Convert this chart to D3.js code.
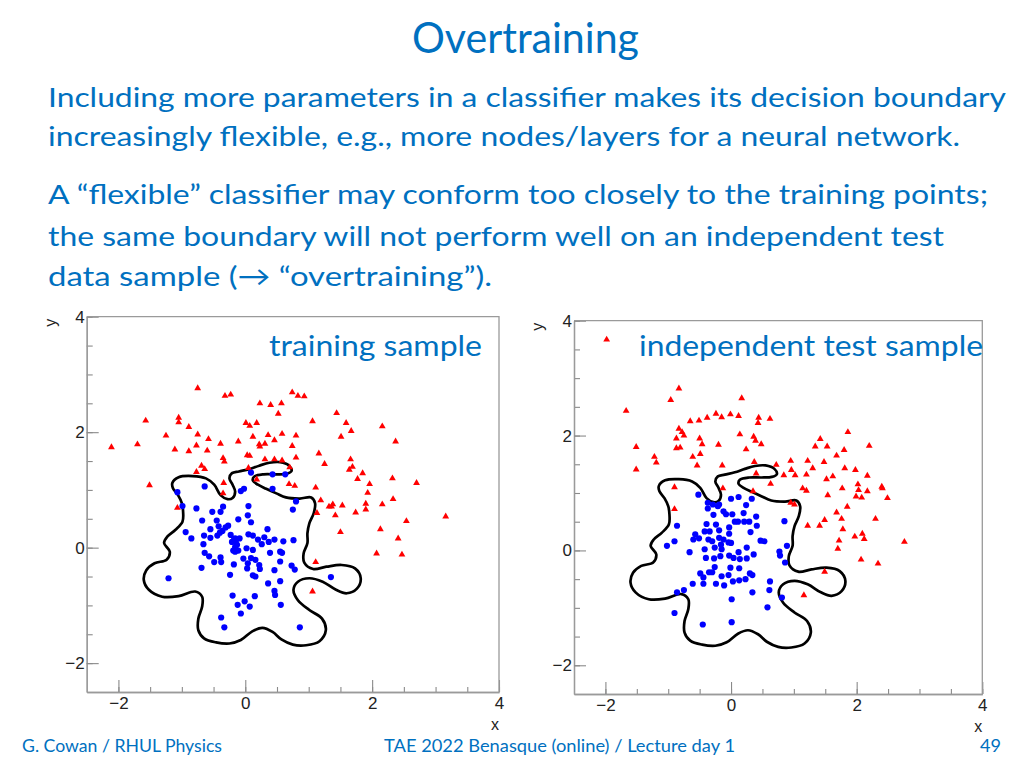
<!DOCTYPE html>
<html><head><meta charset="utf-8">
<script src="https://cdn.jsdelivr.net/npm/d3@7"></script>
<style>body{margin:0;background:#fff;}svg{display:block;}</style>
</head><body>
<svg id="c" width="1024" height="768"></svg>
<script>
// ---------------- data ----------------
const titleText = "Overtraining";
const bodyLines = [
  "Including more parameters in a classifier makes its decision boundary",
  "increasingly flexible, e.g., more nodes/layers for a neural network.",
  "A \u201cflexible\u201d classifier may conform too closely to the training points;",
  "the same boundary will not perform well on an independent test",
  "data sample (\u2192 \u201covertraining\u201d)."
];
const panelTitles = ["training sample", "independent test sample"];
const footerTexts = ["G. Cowan / RHUL Physics", "TAE 2022 Benasque (online) / Lecture day 1", "49"];

const xDomain = [-2.5, 4];
const yDomain = [-2.5, 4];
const majorTicks = [-2, 0, 2, 4];
const minorTicks = [-2, -1.5, -1, -0.5, 0, 0.5, 1, 1.5, 2, 2.5, 3, 3.5, 4];

// training sample: red triangles (class 1), blue dots (class 2)
const trainRed = [
[-2.11,1.74],[-1.70,1.79],[-1.57,2.20],[-1.51,1.08],[-1.25,1.94],[-1.11,1.70],[-1.05,2.25],[-1.05,2.17],[-0.89,2.09],[-0.89,1.67],
[-0.75,2.76],[-0.75,1.96],[-0.77,1.77],[-0.77,1.31],[-0.69,1.42],[-0.64,1.36],[-0.58,1.88],[-0.60,1.68],[-0.39,1.80],[-0.35,1.55],
[-0.33,1.49],[-0.34,1.12],[-0.35,0.94],[-0.32,2.63],[-0.23,2.65],[-0.11,1.84],[0.01,2.16],[0.07,2.11],[0.03,1.60],[0.07,1.59],
[0.05,1.38],[0.12,1.92],[0.18,2.16],[0.22,1.79],[0.23,1.75],[0.23,2.50],[0.31,1.80],[0.31,1.53],[0.36,1.95],[0.40,2.47],
[0.46,1.86],[0.46,1.53],[0.52,2.32],[0.57,2.50],[0.58,1.97],[0.58,1.51],[0.74,2.69],[0.83,2.63],[0.93,2.62],[0.80,1.94],
[0.74,1.76],[0.80,1.56],[0.70,1.39],[0.69,1.10],[0.78,1.07],[0.18,1.18],[1.06,2.19],[1.16,1.63],[1.25,1.45],[1.11,1.04],
[1.19,0.82],[1.13,0.60],[1.32,0.71],[1.36,0.71],[1.38,0.75],[1.44,2.33],[1.51,1.92],[1.59,2.16],[1.67,2.02],[1.66,1.53],
[1.69,1.40],[1.64,1.35],[1.77,1.19],[1.85,1.29],[1.96,1.10],[1.93,0.95],[1.90,0.76],[1.90,0.66],[1.74,0.61],[1.53,0.73],
[1.42,0.56],[1.50,0.27],[1.11,-0.25],[1.06,-0.76],[2.16,2.10],[2.37,1.84],[2.32,1.20],[2.33,0.84],[2.16,0.75],[2.70,1.12],
[2.54,0.46],[2.13,0.32],[2.41,0.16],[2.07,-0.10],[2.47,-0.12],[3.16,0.54],[-1.07,0.69]
];
const trainBlue = [
[-1.07,0.96],[-0.99,0.72],[-0.64,1.06],[-0.77,0.68],[-0.68,0.47],[-0.52,0.62],[-0.39,0.62],[-0.35,0.71],[-0.94,0.27],[-0.85,0.16],
[-0.65,0.21],[-0.55,0.32],[-0.55,0.17],[-0.45,0.47],[-0.42,0.37],[-0.40,0.26],[-0.44,0.21],[-0.36,0.29],[-0.31,0.35],[-0.27,0.38],
[-0.66,0.06],[-0.64,-0.09],[-0.57,-0.15],[-0.49,-0.25],[-0.39,-0.17],[-0.38,-0.25],[-0.69,-0.35],[-1.21,-0.53],[-0.11,0.49],[0.04,0.56],
[0.05,0.72],[0.09,0.44],[-0.07,0.98],[-0.02,1.02],[0.09,1.30],[0.43,1.27],[0.63,1.27],[0.43,1.02],[0.80,0.80],[0.75,0.66],
[-0.18,0.13],[-0.15,0.10],[-0.21,0.10],[-0.09,0.16],[-0.13,0.05],[-0.16,0.01],[-0.19,-0.05],[-0.11,-0.05],[0.02,-0.01],[0.05,0.23],
[0.12,0.21],[0.20,0.14],[0.26,0.06],[0.30,0.18],[0.35,0.32],[0.37,0.10],[0.46,0.14],[0.60,0.11],[0.76,0.13],[-0.03,-0.19],
[0.04,-0.27],[0.03,-0.36],[0.09,-0.18],[0.12,-0.04],[0.22,-0.30],[0.23,-0.37],[0.39,-0.09],[0.46,-0.39],[0.58,-0.09],[0.55,-0.24],
[0.73,-0.31],[0.78,-0.38],[-0.18,-0.29],[-0.24,-0.47],[0.12,-0.48],[0.16,-0.50],[0.36,-0.62],[0.46,-0.75],[0.47,-0.82],[0.55,-0.58],
[-0.20,-0.83],[-0.01,-0.93],[-0.12,-0.99],[-0.07,-1.14],[0.07,-1.02],[0.15,-0.84],[0.56,-0.99],[-0.38,-1.21],[-0.33,-1.38],[0.86,-1.38],
[1.35,-0.51],[-0.23,0.22],[-0.16,0.16],[-0.16,-0.07],[0.55,-0.07],[0.16,-0.21]
];

// independent test sample
const testRed = [
[-1.98,3.67],[-1.67,2.43],[-1.51,1.80],[-1.51,1.41],[-1.22,1.63],[-1.19,1.53],[-0.96,2.62],[-0.83,2.82],[-0.87,1.95],[-0.87,1.78],
[-0.81,1.79],[-0.83,2.12],[-0.78,2.06],[-0.75,2.00],[-0.90,1.10],[-0.90,0.72],[-0.65,2.25],[-0.51,2.26],[-0.61,1.63],[-0.54,1.48],
[-0.49,1.68],[-0.50,1.95],[-0.46,1.85],[-0.38,2.31],[-0.24,2.38],[-0.15,2.32],[-0.20,1.84],[-0.14,1.48],[-0.13,1.08],[-0.01,2.37],
[0.12,2.34],[0.14,2.02],[0.17,2.65],[0.24,1.76],[0.36,1.98],[0.39,1.91],[0.44,2.31],[0.43,2.22],[0.48,1.85],[0.62,2.29],
[0.37,1.54],[0.40,1.34],[0.35,1.03],[0.63,1.16],[0.72,1.49],[0.84,1.31],[0.95,1.56],[0.96,1.40],[1.02,1.31],[0.95,0.83],
[1.01,0.80],[1.14,1.08],[1.20,1.04],[1.22,1.56],[1.30,1.43],[1.20,1.32],[1.34,1.81],[1.42,1.94],[1.53,1.81],[1.48,1.54],
[1.52,1.24],[1.62,1.29],[1.68,1.65],[1.80,1.75],[1.81,1.43],[1.77,1.08],[1.54,0.96],[1.85,0.76],[1.68,0.66],[1.76,0.55],
[1.78,0.37],[1.49,0.53],[1.41,0.43],[1.22,0.43],[1.86,2.06],[1.98,1.40],[2.02,1.15],[2.03,1.05],[1.99,0.94],[2.08,0.92],
[2.17,1.30],[2.20,1.82],[2.17,1.03],[2.40,1.11],[2.41,1.08],[2.49,0.91],[2.30,0.55],[2.09,0.29],[2.12,0.20],[1.97,0.24],
[1.72,0.17],[1.70,0.03],[2.07,-0.16],[2.34,-0.23],[2.76,0.15],[1.49,-0.37],[1.16,-0.78]
];
const testBlue = [
[-0.52,0.97],[-0.37,0.83],[-0.37,0.73],[-0.29,0.80],[-0.19,0.80],[-0.21,0.77],[0.00,0.90],[0.12,0.93],[0.33,0.90],[0.24,0.79],
[-0.86,0.43],[-0.90,0.16],[-1.02,0.08],[-0.28,0.62],[-0.12,0.68],[-0.08,0.63],[0.02,0.63],[0.20,0.65],[0.40,0.59],[-0.39,0.46],
[-0.24,0.45],[-0.19,0.35],[-0.03,0.40],[0.06,0.50],[0.11,0.50],[0.21,0.50],[0.29,0.50],[0.41,0.43],[-0.60,0.19],[-0.57,0.28],
[-0.51,0.21],[-0.42,0.33],[-0.36,0.19],[-0.34,0.33],[-0.30,0.16],[-0.26,0.05],[-0.19,0.22],[-0.16,0.10],[-0.15,0.02],[-0.12,0.19],
[-0.66,-0.03],[-0.42,0.02],[-0.04,0.14],[0.00,0.13],[-0.03,0.29],[-0.40,-0.13],[-0.27,-0.14],[-0.17,-0.10],[-0.03,-0.09],[0.04,-0.13],
[0.12,-0.03],[0.14,-0.15],[0.25,-0.14],[0.25,0.05],[0.36,-0.07],[0.31,0.32],[0.47,0.17],[0.53,0.16],[-0.49,-0.40],[-0.44,-0.47],
[-0.35,-0.38],[-0.30,-0.38],[-0.26,-0.29],[-0.15,-0.45],[-0.04,-0.43],[-0.01,-0.30],[0.13,-0.31],[0.23,-0.50],[0.30,-0.40],[0.34,-0.43],
[-0.86,-0.73],[-0.75,-0.69],[-0.61,-0.58],[-0.44,-0.58],[-0.24,-0.58],[-0.11,-0.61],[0.03,-0.54],[0.13,-0.52],[0.34,-0.73],[0.62,-0.54],
[0.61,-0.69],[0.01,-0.85],[0.58,-0.99],[0.81,-0.82],[-0.90,-1.09],[-0.45,-1.29],[0.01,-1.25],[0.85,0.51],[0.89,0.08],[0.77,-0.02],
[0.78,-0.09],[0.86,-0.21]
];

// decision boundary (same classifier in both panels), traced clockwise
const boundary = [
[-1.15,1.12],[-1.05,1.22],[-0.83,1.24],[-0.62,1.20],[-0.49,1.09],[-0.39,0.91],[-0.28,0.84],[-0.20,0.86],[-0.16,0.97],[-0.20,1.09],
[-0.25,1.20],[-0.21,1.29],[-0.10,1.32],[0.06,1.36],[0.22,1.42],[0.38,1.47],[0.55,1.48],[0.69,1.42],[0.73,1.33],[0.65,1.28],
[0.49,1.27],[0.29,1.27],[0.14,1.23],[0.12,1.16],[0.20,1.09],[0.33,1.02],[0.49,0.94],[0.64,0.87],[0.86,0.85],[1.04,0.87],
[1.10,0.77],[1.08,0.60],[1.01,0.42],[0.98,0.25],[0.98,0.08],[0.92,-0.10],[0.93,-0.26],[1.07,-0.37],[1.28,-0.33],[1.52,-0.30],
[1.73,-0.36],[1.82,-0.53],[1.76,-0.71],[1.60,-0.79],[1.43,-0.73],[1.22,-0.59],[1.01,-0.53],[0.83,-0.59],[0.76,-0.73],[0.83,-0.91],
[1.01,-1.08],[1.21,-1.23],[1.27,-1.43],[1.17,-1.62],[0.96,-1.69],[0.75,-1.68],[0.57,-1.59],[0.43,-1.46],[0.27,-1.39],[0.11,-1.45],
[-0.07,-1.60],[-0.25,-1.66],[-0.46,-1.64],[-0.65,-1.57],[-0.74,-1.43],[-0.74,-1.23],[-0.68,-1.02],[-0.68,-0.85],[-0.79,-0.76],[-1.05,-0.84],
[-1.31,-0.85],[-1.52,-0.73],[-1.60,-0.56],[-1.56,-0.39],[-1.43,-0.27],[-1.24,-0.21],[-1.19,-0.07],[-1.28,0.08],[-1.23,0.19],[-1.10,0.31],
[-0.99,0.45],[-0.98,0.62],[-1.00,0.77],[-1.06,0.91],[-1.14,1.03]
];

// ---------------- drawing ----------------
const svg = d3.select("#c");
const BLUE = "#0070C0";
const TXT = "Lato, 'Open Sans', sans-serif";
const AX = "'Liberation Sans', Arial, sans-serif";
const fmt = d3.format("d");

svg.append("rect").attr("width",1024).attr("height",768).attr("fill","#fff");

svg.append("text").text(titleText)
  .attr("x",412).attr("y",53).attr("font-family",TXT).attr("font-size",43)
  .attr("fill",BLUE).attr("textLength",227).attr("lengthAdjust","spacingAndGlyphs");

const bodyPos = [[107,958],[146,912],[204,940],[246,896],[286,444]];
bodyLines.forEach((t,i)=>{
  svg.append("text").text(t).attr("x",48).attr("y",bodyPos[i][0])
    .attr("font-family",TXT).attr("font-size",27.5).attr("fill",BLUE)
    .attr("textLength",bodyPos[i][1]).attr("lengthAdjust","spacingAndGlyphs");
});

const footPos = [[22,200],[384,351],[980,21]];
footerTexts.forEach((t,i)=>{
  svg.append("text").text(t).attr("x",footPos[i][0]).attr("y",752)
    .attr("font-family",TXT).attr("font-size",16.5).attr("fill",BLUE)
    .attr("textLength",footPos[i][1]).attr("lengthAdjust","spacingAndGlyphs");
});

function panel(cfg){
  const x = d3.scaleLinear().domain(xDomain).range([cfg.l,cfg.r]);
  const y = d3.scaleLinear().domain(yDomain).range([cfg.b,cfg.t]);
  const g = svg.append("g");

  const styleAxis = sel => {
    sel.selectAll(".domain").attr("stroke","#9a9a9a").attr("stroke-width",1.3);
    sel.selectAll(".tick line").attr("stroke","#8a8a8a").attr("stroke-width",1.1);
    sel.selectAll(".tick text").attr("font-family",AX).attr("font-size",17).attr("fill","#222");
  };
  // x axis
  g.append("g").attr("transform",`translate(0,${cfg.b})`)
    .call(d3.axisBottom(x).tickValues(minorTicks).tickSize(-5).tickSizeOuter(0).tickFormat(""))
    .call(styleAxis);
  g.append("g").attr("transform",`translate(0,${cfg.b})`)
    .call(d3.axisBottom(x).tickValues(majorTicks).tickSize(-12).tickSizeOuter(0).tickPadding(5).tickFormat(fmt))
    .call(styleAxis);
  // y axis
  g.append("g").attr("transform",`translate(${cfg.l},0)`)
    .call(d3.axisLeft(y).tickValues(minorTicks).tickSize(-6).tickSizeOuter(0).tickFormat(""))
    .call(styleAxis);
  g.append("g").attr("transform",`translate(${cfg.l},0)`)
    .call(d3.axisLeft(y).tickValues(majorTicks).tickSize(-12).tickSizeOuter(0).tickPadding(2).tickFormat(fmt))
    .call(styleAxis);
  // top and right frame
  g.append("path")
    .attr("d",`M${cfg.l},${cfg.t}H${cfg.r}V${cfg.b}`)
    .attr("fill","none").attr("stroke","#9a9a9a").attr("stroke-width",1.3);

  // axis titles
  g.append("text").text("x").attr("x",cfg.r-4).attr("y",cfg.b+38)
    .attr("font-family",AX).attr("font-size",16).attr("fill","#222").attr("text-anchor","middle");
  g.append("text").text("y")
    .attr("transform",`translate(${cfg.l-31},${cfg.t+6}) rotate(-90)`)
    .attr("font-family",AX).attr("font-size",16).attr("fill","#222").attr("text-anchor","middle");

  // decision boundary
  const line = d3.line().x(d=>x(d[0])).y(d=>y(d[1])).curve(d3.curveCatmullRomClosed.alpha(0.5));
  g.append("path").datum(boundary).attr("d",line)
    .attr("fill","none").attr("stroke","#000").attr("stroke-width",2.7).attr("stroke-linejoin","round");

  // points
  const tri = d3.symbol().type(d3.symbolTriangle).size(20);
  g.append("g").selectAll("path").data(cfg.red).join("path")
    .attr("d",tri).attr("transform",d=>`translate(${x(d[0])},${y(d[1])})`).attr("fill","#ff0000");
  g.append("g").selectAll("circle").data(cfg.blue).join("circle")
    .attr("cx",d=>x(d[0])).attr("cy",d=>y(d[1])).attr("r",3.1).attr("fill","#0000ff");

  g.append("text").text(cfg.title).attr("x",cfg.tx).attr("y",355.5)
    .attr("font-family",TXT).attr("font-size",29).attr("fill",BLUE)
    .attr("textLength",cfg.tw).attr("lengthAdjust","spacingAndGlyphs");
}

panel({l:86.7, r:499, t:316.7, b:692, red:trainRed, blue:trainBlue, title:panelTitles[0], tx:269, tw:213});
panel({l:574, r:982.3, t:320.7, b:694, red:testRed, blue:testBlue, title:panelTitles[1], tx:639, tw:344});
</script>
</body></html>
